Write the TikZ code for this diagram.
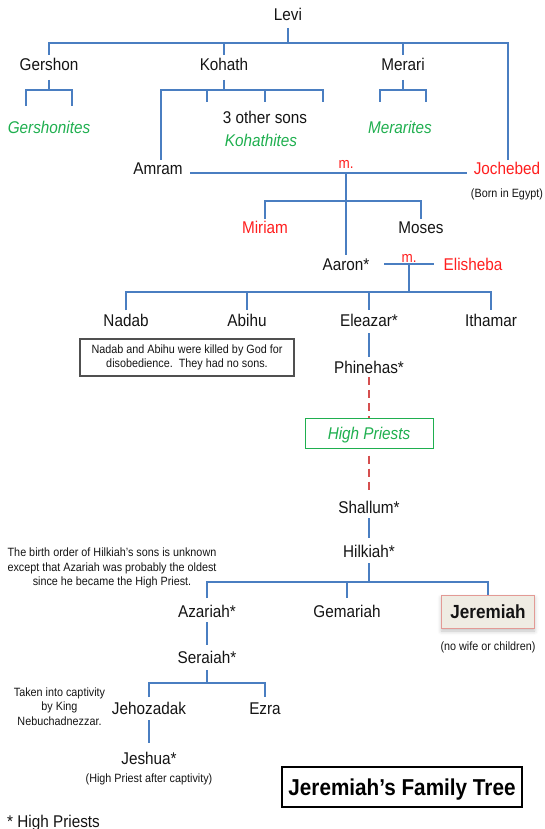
\documentclass[tikz,border=0pt]{standalone}
\usepackage{fontspec}
\setmainfont{Liberation Sans}[FakeStretch=0.9]
\usetikzlibrary{shadows.blur}
\definecolor{lineblue}{HTML}{4A7EC1}
\definecolor{tgreen}{HTML}{1FAF4F}
\definecolor{tred}{HTML}{FF1E1E}
\definecolor{dred}{HTML}{D54F4F}
\definecolor{boxfill}{HTML}{EFECE3}
\definecolor{boxedge}{HTML}{E39A95}
\definecolor{notegray}{HTML}{505050}
\definecolor{ink}{HTML}{141414}
\begin{document}
\begin{tikzpicture}[x=1pt,y=-1pt,
  conn/.style={draw=lineblue, line width=1.9pt},
  dashconn/.style={draw=dred, line width=2pt, dash pattern=on 8pt off 5pt},
  person/.style={font=\fontsize{17}{20}\selectfont, inner sep=0pt, anchor=base, text=ink},
  fam/.style={person, text=tgreen, font=\fontsize{17}{20}\selectfont\itshape},
  wife/.style={person, text=tred},
  wed/.style={font=\fontsize{15}{18}\selectfont, text=tred, inner sep=0pt, anchor=base},
  smalltext/.style={font=\fontsize{12}{14.5}\selectfont, inner sep=0pt, text=ink},
  notebox/.style={smalltext, draw=notegray, line width=1.1pt, minimum width=214pt, minimum height=37pt, align=center},
  hpbox/.style={draw=tgreen, line width=1pt, minimum width=128pt, minimum height=30pt, inner sep=0pt, font=\fontsize{17}{20}\selectfont\itshape, text=tgreen, text height=12.3pt, text depth=0pt},
  jbox/.style={draw=boxedge, line width=1pt, fill=boxfill, minimum width=93pt, minimum height=33pt, inner sep=0pt, font=\fontsize{19}{22}\selectfont\bfseries, text=ink, text height=13.6pt, text depth=0pt, blur shadow={shadow xshift=0pt, shadow yshift=-3pt, shadow blur radius=4pt, shadow opacity=25}},
  titlebox/.style={draw=black, line width=2.4pt, minimum width=240pt, minimum height=40pt, inner sep=0pt, font=\fontsize{23}{26}\selectfont\bfseries, text=black, text height=16.5pt, text depth=0pt}
]
\useasboundingbox (0,0) rectangle (545,829);
% ---------- nodes ----------
\node[person] (levi) at (288,21) {Levi};
\node[person] (gershon) at (49,71) {Gershon};
\node[person] (kohath) at (224,71) {Kohath};
\node[person] (merari) at (403,71) {Merari};
\node[fam] (gershonites) at (49,134) {Gershonites};
\node[person] (others) at (265,124) {3 other sons};
\node[fam] (kohathites) at (261,147) {Kohathites};
\node[fam] (merarites) at (400,134) {Merarites};
\node[person] (amram) at (158,175) {Amram};
\node[wife] (jochebed) at (507,175) {Jochebed};
\node[wed] (m1) at (346,168) {m.};
\node[smalltext, anchor=base] (egypt) at (507,197) {(Born in Egypt)};
\node[wife] (miriam) at (265,233) {Miriam};
\node[person] (moses) at (421,233) {Moses};
\node[person] (aaron) at (346,270) {Aaron*};
\node[wed] (m2) at (409,262) {m.};
\node[wife] (elisheba) at (473,270) {Elisheba};
\node[person] (nadab) at (126,326) {Nadab};
\node[person] (abihu) at (247,326) {Abihu};
\node[person] (eleazar) at (369,326) {Eleazar*};
\node[person] (ithamar) at (491,326) {Ithamar};
\node[notebox] (note1) at (187,357.5) {Nadab and Abihu were killed by God for\\disobedience.\ \ They had no sons.};
\node[person] (phinehas) at (369,373) {Phinehas*};
\node[hpbox] (hp) at (369,433) {High Priests};
\node[person] (shallum) at (369,513) {Shallum*};
\node[person] (hilkiah) at (369,557) {Hilkiah*};
\node[smalltext, align=center, anchor=north] (note2) at (112,548) {The birth order of Hilkiah’s sons is unknown\\except that Azariah was probably the oldest\\since he became the High Priest.};
\node[person] (azariah) at (207,617) {Azariah*};
\node[person] (gemariah) at (347,617) {Gemariah};
\node[jbox] (jeremiah) at (488,611.5) {Jeremiah};
\node[smalltext, anchor=base] (nowife) at (488,650) {(no wife or children)};
\node[person] (seraiah) at (207,663) {Seraiah*};
\node[smalltext, align=center, anchor=north] (note3) at (59.5,687.5) {Taken into captivity\\by King\\Nebuchadnezzar.};
\node[person] (jehozadak) at (149,714) {Jehozadak};
\node[person] (ezra) at (265,714) {Ezra};
\node[person] (jeshua) at (149,764) {Jeshua*};
\node[smalltext, anchor=base] (after) at (149,782) {(High Priest after captivity)};
\node[titlebox] (title) at (402,787) {Jeremiah’s Family Tree};
\node[person, anchor=base west] (legend) at (7,827) {* High Priests};
% ---------- junctions ----------
\coordinate (levibar) at (288,43);
\coordinate (gbar) at (49,90);
\coordinate (kbar) at (224,90);
\coordinate (mbar) at (403,90);
\coordinate (wed1) at (346,173);
\coordinate (sibbar) at (346,201);
\coordinate (wed2) at (409,264);
\coordinate (abar) at (409,292);
\coordinate (hbar) at (369,582);
\coordinate (sbar) at (207,683);
% ---------- connectors ----------
\draw[conn] (levi |- 0,28) -- (levibar);
\draw[conn] (gershon |- 0,55) -- (gershon |- levibar) -- (508,43) -- (508,160);
\draw[conn] (kohath |- levibar) -- (kohath |- 0,55);
\draw[conn] (merari |- levibar) -- (merari |- 0,55);
% Gershon
\draw[conn] (gershon |- 0,80) -- (gbar);
\draw[conn] (26,106) -- (26,90) -- (72,90) -- (72,106);
% Kohath
\draw[conn] (kohath |- 0,80) -- (kbar);
\draw[conn] (161,160) -- (161,90) -- (323,90) -- (323,102);
\draw[conn] (207,90) -- (207,102);
\draw[conn] (265,90) -- (265,102);
% Merari
\draw[conn] (merari |- 0,80) -- (mbar);
\draw[conn] (380,102) -- (380,90) -- (426,90) -- (426,102);
% Amram m. Jochebed
\draw[conn] (190,173) -- (467,173);
\draw[conn] (wed1) -- (aaron |- 0,255);
\draw[conn] (miriam |- 0,219) -- (miriam |- sibbar) -- (moses |- sibbar) -- (moses |- 0,219);
% Aaron m. Elisheba
\draw[conn] (384,264) -- (434,264);
\draw[conn] (wed2) -- (abar);
\draw[conn] (nadab |- 0,310) -- (nadab |- abar) -- (ithamar |- abar) -- (ithamar |- 0,310);
\draw[conn] (abihu |- abar) -- (abihu |- 0,310);
\draw[conn] (eleazar |- abar) -- (eleazar |- 0,310);
\draw[conn] (eleazar |- 0,333) -- (phinehas |- 0,357);
% dashed line of High Priests
\draw[dashconn] (phinehas |- 0,377) -- (hp.north);
\draw[dashconn] (hp.south) ++(0,7) -- (shallum |- 0,492);
\draw[conn] (shallum |- 0,518) -- (hilkiah |- 0,538);
% Hilkiah's sons
\draw[conn] (hilkiah |- 0,563) -- (hbar);
\draw[conn] (azariah |- 0,598) -- (azariah |- hbar) -- (jeremiah |- hbar) -- (jeremiah.north);
\draw[conn] (gemariah |- hbar) -- (gemariah |- 0,598);
\draw[conn] (azariah |- 0,622) -- (seraiah |- 0,645);
% Seraiah's sons
\draw[conn] (seraiah |- 0,670) -- (sbar);
\draw[conn] (jehozadak |- 0,697) -- (jehozadak |- sbar) -- (ezra |- sbar) -- (ezra |- 0,697);
\draw[conn] (jehozadak |- 0,720) -- (jeshua |- 0,743);
\end{tikzpicture}
\end{document}
